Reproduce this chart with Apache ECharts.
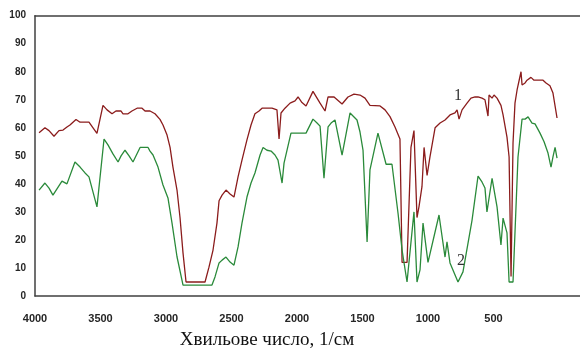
<!DOCTYPE html>
<html>
<head>
<meta charset="utf-8">
<script src="https://cdn.jsdelivr.net/npm/echarts@6/dist/echarts.min.js"></script>
<style>
  html, body { margin: 0; padding: 0; background: #fff; }
  #chart { width: 580px; height: 354px; }
</style>
</head>
<body>
<div id="chart"></div>
<script>
// Spectrum 1 (dark red)
const wavenumber1 = [3969, 3924, 3893, 3855, 3817, 3786, 3756, 3733, 3687, 3656, 3588, 3557, 3527, 3481, 3450, 3412, 3382, 3343, 3328, 3290, 3260, 3221, 3183, 3160, 3122, 3084, 3046, 3023, 2992, 2969, 2947, 2916, 2893, 2870, 2847, 2702, 2672, 2641, 2611, 2595, 2572, 2542, 2511, 2481, 2450, 2420, 2382, 2351, 2321, 2290, 2267, 2191, 2153, 2137, 2122, 2092, 2053, 2015, 1992, 1962, 1931, 1878, 1824, 1786, 1763, 1717, 1656, 1611, 1565, 1519, 1481, 1443, 1366, 1328, 1290, 1252, 1214, 1198, 1160, 1130, 1107, 1084, 1069, 1046, 1030, 1007, 985, 946, 908, 870, 832, 794, 778, 763, 740, 702, 672, 641, 618, 588, 565, 542, 534, 511, 496, 473, 443, 427, 397, 381, 366, 351, 336, 320, 290, 282, 259, 244, 214, 191, 122, 99, 69, 46, 15];
const transmittance1 = [58.2, 60, 59, 57, 59, 59.2, 60.3, 61, 63, 62, 62, 60, 58, 68, 66.4, 65, 66, 66, 65, 65, 66, 67, 67, 66, 66, 65, 63, 61, 57.4, 53, 46, 37.8, 28, 15.3, 5, 5, 10.3, 16.4, 26, 34, 36, 37.8, 36.4, 35.3, 42.5, 48.5, 55.7, 61, 65, 66, 67, 67, 66.4, 56, 65.3, 67, 68.8, 69.6, 71, 69, 67.8, 73, 68.8, 66, 71, 71, 68.5, 71, 72, 71.7, 70.6, 68, 67.8, 66.4, 64, 60.3, 56, 12, 12, 53, 59, 28, 31.8, 39, 53, 43, 49.6, 60, 61.7, 62.8, 64.6, 65.3, 66.4, 63.1, 66.4, 68.8, 70.6, 71, 71, 70.6, 70, 64.2, 71.7, 70.6, 71.7, 70.6, 68, 64.6, 56.7, 49.6, 7, 54.6, 68.8, 73.5, 80, 75.3, 76, 77, 78, 77, 77, 76, 75, 72.4, 63.5];

// Spectrum 2 (green)
const wavenumber2 = [3969, 3924, 3893, 3863, 3794, 3756, 3695, 3656, 3618, 3588, 3527, 3473, 3443, 3405, 3366, 3343, 3313, 3282, 3252, 3198, 3137, 3122, 3099, 3061, 3023, 2985, 2954, 2916, 2870, 2649, 2626, 2595, 2572, 2542, 2511, 2481, 2450, 2420, 2382, 2351, 2321, 2282, 2259, 2229, 2198, 2168, 2145, 2114, 2099, 2046, 1931, 1878, 1847, 1824, 1794, 1763, 1740, 1710, 1656, 1595, 1542, 1519, 1496, 1465, 1443, 1382, 1320, 1275, 1229, 1198, 1160, 1107, 1084, 1061, 1038, 1000, 916, 870, 855, 832, 771, 733, 664, 618, 588, 565, 550, 511, 473, 443, 427, 397, 381, 351, 313, 282, 259, 236, 206, 183, 145, 114, 84, 61, 46, 30, 15];
const transmittance2 = [37.8, 40.3, 38.5, 36, 41, 40, 47.8, 46, 43.9, 42.5, 31.8, 56, 53.9, 50.7, 47.8, 50, 52, 50, 47.8, 53, 53, 51.7, 50.3, 46, 39.6, 35, 26, 14, 3.9, 3.9, 6.8, 11.8, 12.8, 13.9, 12.1, 11, 17.5, 26, 35.3, 40.3, 43.9, 50.3, 53, 52, 51.7, 50.3, 48.5, 40.3, 47.4, 58.1, 58.1, 63.1, 61.7, 60.6, 42, 60.3, 61.7, 62.8, 50.3, 65.3, 62.8, 58.5, 52, 19.3, 45, 58.1, 47, 47, 29.6, 16.4, 5, 30, 5, 9.3, 26, 12, 28.9, 13.9, 19.3, 11.8, 5, 8.6, 27, 42.8, 40.7, 38.5, 30, 42, 31.8, 18.2, 27.8, 22.5, 5, 5, 49.6, 63.1, 63.1, 63.9, 61.7, 61.4, 58.1, 55, 51, 46, 49.6, 53, 49.2];

const curveLabels = ['1', '2'];
const curveLabelAt = [[771, 71.3], [748, 12.5]];
const xTitle = 'Хвильове число, 1/см';

const AXIS_COLOR = '#404040';
const TEXT_COLOR = '#262626';

function zip(xs, ys) {
  return xs.map((x, i) => [x, ys[i]]);
}

function curveSeries(data, color, labelIdx) {
  return {
    type: 'line',
    data: data,
    showSymbol: false,
    symbol: 'none',
    lineStyle: { color: color, width: 1.3 },
    animation: false,
    markPoint: {
      symbol: 'circle',
      symbolSize: 1,
      itemStyle: { color: 'rgba(0,0,0,0)' },
      label: {
        show: true,
        position: 'inside',
        formatter: curveLabels[labelIdx],
        fontFamily: 'Liberation Serif',
        fontSize: 16,
        color: '#333'
      },
      data: [{ coord: curveLabelAt[labelIdx] }]
    }
  };
}

const chart = echarts.init(document.getElementById('chart'), null, { renderer: 'canvas' });

// plot area runs past the right edge of the picture (cropped like the original)
chart.setOption({
  animation: false,
  grid: { left: 35, width: 589.5, top: 15.7, height: 280.3, outerBoundsMode: 'none' },
  xAxis: [
    {
      type: 'value',
      inverse: true,
      min: -500,
      max: 4000,
      interval: 500,
      axisLine: { show: true, onZero: false, lineStyle: { color: AXIS_COLOR, width: 1.5 } },
      axisTick: { show: false },
      splitLine: { show: false },
      axisLabel: {
        margin: 17,
        fontFamily: 'Liberation Sans',
        fontWeight: 'bold',
        fontSize: 11,
        color: TEXT_COLOR,
        formatter: (v) => (v > 0 ? String(v) : '')
      }
    },
    {
      type: 'value',
      position: 'top',
      inverse: true,
      min: -500,
      max: 4000,
      axisLine: { show: true, onZero: false, lineStyle: { color: AXIS_COLOR, width: 1.5 } },
      axisTick: { show: false },
      axisLabel: { show: false },
      splitLine: { show: false }
    }
  ],
  yAxis: {
    type: 'value',
    min: 0,
    max: 100,
    interval: 10,
    axisLine: { show: true, onZero: false, lineStyle: { color: AXIS_COLOR, width: 1.5 } },
    axisTick: { show: false },
    splitLine: { show: false },
    axisLabel: {
      margin: 9,
      fontFamily: 'Liberation Sans',
      fontWeight: 'bold',
      fontSize: 10,
      color: TEXT_COLOR
    }
  },
  graphic: [
    {
      type: 'text',
      style: {
        x: 267,
        y: 340,
        text: xTitle,
        textAlign: 'center',
        textVerticalAlign: 'middle',
        fontFamily: 'Liberation Serif',
        fontSize: 19,
        fill: '#111'
      }
    }
  ],
  series: [
    curveSeries(zip(wavenumber1, transmittance1), '#8B1C1C', 0),
    curveSeries(zip(wavenumber2, transmittance2), '#2A8A3A', 1)
  ]
});
</script>
</body>
</html>
